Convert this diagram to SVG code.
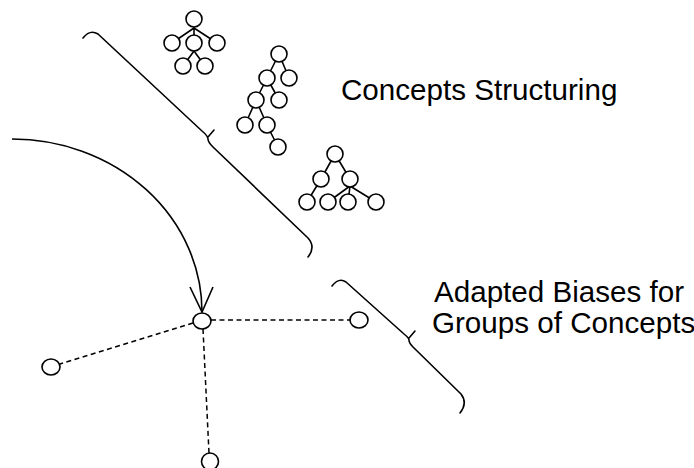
<svg xmlns="http://www.w3.org/2000/svg" width="694" height="468" viewBox="0 0 694 468">
<style>
.n{fill:#fff;stroke:#000;stroke-width:1.6}
.e{fill:none;stroke:#000;stroke-width:1.6}
.d{fill:none;stroke:#000;stroke-width:1.5;stroke-dasharray:5 3.5}
.b{fill:none;stroke:#000;stroke-width:1.6;stroke-linecap:round;stroke-linejoin:round}
.t{font-family:"Liberation Sans",Arial,sans-serif;font-size:29.6px;fill:#000}
</style>
<rect width="694" height="468" fill="#fff"/>
<g id="connectors">
<path class="e" d="M12,139 A190,173 0 0 1 202,312"/>
<path class="e" d="M190,287 L202,312 L213,287"/>
<line class="d" x1="211" y1="320" x2="350" y2="320"/>
<line class="d" x1="193" y1="323" x2="60" y2="364"/>
<line class="d" x1="203" y1="329" x2="209" y2="453"/>
</g>
<g id="tree1">
<path class="e" d="M194,19 V28 M194,28 L172,43 M194,28 L217,43 M194,28 V43 M194,43 V51 M194,51 L183,66 M194,51 L205,66"/>
<circle class="n" cx="194" cy="19" r="8"/>
<circle class="n" cx="172" cy="43" r="8"/>
<circle class="n" cx="194" cy="43" r="8"/>
<circle class="n" cx="217" cy="43" r="8"/>
<circle class="n" cx="183" cy="66" r="8"/>
<circle class="n" cx="205" cy="66" r="8"/>
</g>
<g id="tree2">
<path class="e" d="M279,54 L267,78 M279,54 L289,78 M267,78 L256,100 M267,78 L279,100 M256,100 L245,125 M256,100 L267,125 M267,125 L278,147"/>
<circle class="n" cx="279" cy="54" r="8"/>
<circle class="n" cx="267" cy="78" r="8"/>
<circle class="n" cx="289" cy="78" r="8"/>
<circle class="n" cx="256" cy="100" r="8"/>
<circle class="n" cx="279" cy="100" r="8"/>
<circle class="n" cx="245" cy="125" r="8"/>
<circle class="n" cx="267" cy="125" r="8"/>
<circle class="n" cx="278" cy="147" r="8"/>
</g>
<g id="tree3">
<path class="e" d="M335,154 L321,179 M335,154 L350,179 M321,179 L307,202 M350,179 V186 M350,186 L328,202 M350,186 L348,202 M350,186 L376,202"/>
<circle class="n" cx="335" cy="154" r="8"/>
<circle class="n" cx="321" cy="179" r="8"/>
<circle class="n" cx="350" cy="179" r="8"/>
<circle class="n" cx="307" cy="202" r="8"/>
<circle class="n" cx="328" cy="202" r="8"/>
<circle class="n" cx="348" cy="202" r="8"/>
<circle class="n" cx="376" cy="202" r="8"/>
</g>
<g id="brace1">
<path class="b" d="M83,38 Q90,29 98,34 L202,131 Q208,136 208,139 Q208,142 213,147 L308,238 Q316,247 308,257 M208,137 L214,130"/>
</g>
<g id="brace2">
<path class="b" d="M332,286 Q339,277 346,282 L404,334 Q409,338 409,340 Q409,343 413,347 L461,394 Q468,403 460,413 M409,338 L415,331"/>
</g>
<g id="node-center"><ellipse class="n" cx="202" cy="321" rx="9" ry="8"/></g>
<g id="node-right"><ellipse class="n" cx="359" cy="320" rx="9" ry="8"/></g>
<g id="node-left"><ellipse class="n" cx="51" cy="367" rx="9" ry="8"/></g>
<g id="node-bottom"><ellipse class="n" cx="210" cy="461.5" rx="8.5" ry="8.5"/></g>
<g id="label-structuring"><text class="t" x="341" y="100">Concepts Structuring</text></g>
<g id="label-biases">
<text class="t" x="434" y="302">Adapted Biases for</text>
<text class="t" x="432" y="333">Groups of Concepts</text>
</g>
</svg>
